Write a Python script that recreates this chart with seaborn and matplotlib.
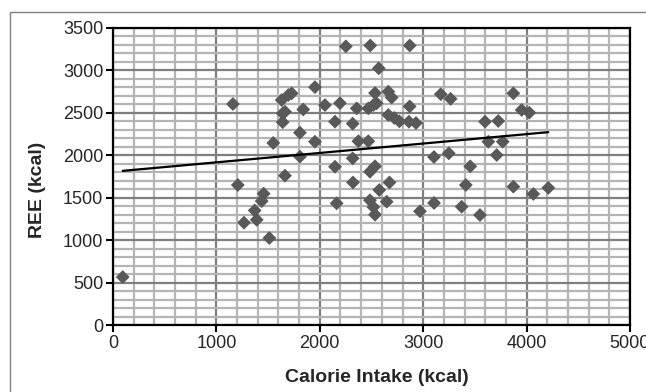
import numpy as np
import pandas as pd
import matplotlib
matplotlib.use("Agg")
import matplotlib.pyplot as plt
from matplotlib.ticker import MultipleLocator
from matplotlib.patches import Rectangle
import seaborn as sns

# podaci ocitani sa slike
calorie_intake = [94, 1160, 1207, 1267, 1390, 1370, 1438, 1457, 1512, 1550,
                  1663, 1631, 1696, 1728, 1641, 1663, 1641, 1840, 1953, 1808,
                  1953, 1808, 2050, 2195, 2147, 2318, 2252, 2488, 2570, 2357,
                  2469, 2518, 2550, 2534, 2663, 2695, 2373, 2469, 2147, 2318,
                  2485, 2534, 2321, 2163, 2485, 2518, 2534, 2575, 2647, 2674,
                  2663, 2720, 2770, 2862, 2930, 2869, 2870, 2969, 3105, 3104,
                  3247, 3170, 3265, 3372, 3412, 3455, 3549, 3598, 3726, 3630,
                  3769, 3711, 3872, 3952, 4026, 3872, 4065, 4210]
ree = [565, 2604, 1650, 1206, 1240, 1350, 1460, 1548, 1025, 2145,
       1760, 2651, 2710, 2730, 2494, 2514, 2390, 2540, 2803, 2266,
       2160, 1984, 2592, 2614, 2396, 2373, 3284, 3294, 3025, 2553,
       2553, 2592, 2612, 2734, 2750, 2680, 2166, 2166, 1865, 1964,
       1806, 1870, 1680, 1434, 1470, 1390, 1300, 1591, 1453, 1680,
       2475, 2440, 2400, 2396, 2380, 2576, 3294, 1340, 1438, 1980,
       2023, 2720, 2665, 1394, 1650, 1870, 1296, 2396, 2404, 2160,
       2160, 2003, 2730, 2534, 2502, 1630, 1544, 1616]

# linearni trend (Excel trendline, ocitan sa slike)
trend_intercept = 1806
trend_slope = 0.1108

df = pd.DataFrame({"intake": calorie_intake, "ree": ree})
x_trend = np.array([df["intake"].min(), df["intake"].max()])
trend_df = pd.DataFrame({"intake": x_trend,
                         "ree": trend_intercept + trend_slope * x_trend})

sns.set_style("white")
plt.rcParams["font.family"] = ["Liberation Sans", "DejaVu Sans"]

fig = plt.figure(figsize=(6.46, 3.92), dpi=100)
ax = fig.add_axes([113/646, 1-325/392, 517/646, 297/392])

sns.scatterplot(data=df, x="intake", y="ree", marker="D", s=50,
                color="#595959", edgecolor="none", ax=ax, zorder=3)
sns.lineplot(data=trend_df, x="intake", y="ree", color="black", lw=1.6,
             ax=ax, zorder=4)

ax.set_xlim(0, 5000)
ax.set_ylim(0, 3500)
ax.xaxis.set_major_locator(MultipleLocator(1000))
ax.yaxis.set_major_locator(MultipleLocator(500))
ax.xaxis.set_minor_locator(MultipleLocator(200))
ax.yaxis.set_minor_locator(MultipleLocator(100))
ax.grid(which="minor", color="#b4b4b4", lw=1.6, zorder=0)
ax.grid(which="major", color="#7f7f7f", lw=1.6, zorder=1)
ax.set_axisbelow(True)
ax.tick_params(which="minor", length=0)
ax.tick_params(which="major", direction="out", length=5, width=1.5,
               color="black", labelsize=13, pad=2,
               bottom=True, left=True)
for sp in ax.spines.values():
    sp.set_color("black")
    sp.set_linewidth(1.6)

ax.set_xlabel("")
ax.set_ylabel("")
fig.text(377/646, 1-377/392, "Calorie Intake (kcal)", ha="center", va="center",
         fontsize=14, fontweight="bold")
fig.text(38/646, 1-190/392, "REE (kcal)", ha="center", va="center",
         rotation=90, fontsize=14, fontweight="bold")

# okvir grafikona
fig.add_artist(Rectangle((9.5/646, -0.5), 2, 1.5 - 12/392, transform=fig.transFigure,
                         fill=False, edgecolor="#808080", lw=1))

fig.savefig("out.png", dpi=100)
